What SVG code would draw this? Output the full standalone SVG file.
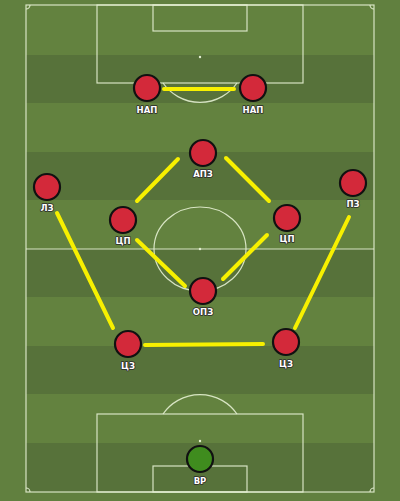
<svg xmlns="http://www.w3.org/2000/svg" width="400" height="501" viewBox="0 0 400 501">
<defs>
<style>
.ln{fill:none;stroke:#e4efd2;stroke-width:1.2;opacity:0.9}
.dk{fill:#57723a}
.lk{stroke:#f7f000;stroke-width:4;stroke-linecap:round}
.pl{fill:#d3293a;stroke:#111;stroke-width:2.2}
.gk{fill:#3f8c1e;stroke:#111;stroke-width:2.2}
.lb{font-family:"DejaVu Sans",sans-serif;font-size:8.5px;font-weight:bold;fill:#fff;text-anchor:middle;stroke:#2a2a2a;stroke-width:1.6;paint-order:stroke;stroke-linejoin:round}
</style>
</defs>
<rect width="400" height="501" fill="#61803f"/>
<g id="pitch">
<rect x="26" y="5" width="348" height="487" fill="#63823f"/>
<rect class="dk" x="26" y="55" width="348" height="48"/>
<rect class="dk" x="26" y="152" width="348" height="48"/>
<rect class="dk" x="26" y="249" width="348" height="48"/>
<rect class="dk" x="26" y="346" width="348" height="48"/>
<rect class="dk" x="26" y="443" width="348" height="49"/>
<rect class="ln" x="26" y="5" width="348" height="487"/>
<line class="ln" x1="26" y1="249" x2="374" y2="249"/>
<ellipse class="ln" cx="200" cy="249" rx="46" ry="42"/>
<circle cx="200" cy="249" r="1.2" fill="#e4efd2"/>
<rect class="ln" x="97" y="5" width="206" height="78"/>
<rect class="ln" x="153" y="5" width="94" height="26"/>
<circle cx="200" cy="57" r="1.2" fill="#e4efd2"/>
<path class="ln" d="M163 83 A45 45 0 0 0 237 83"/>
<rect class="ln" x="97" y="414" width="206" height="78"/>
<rect class="ln" x="153" y="466" width="94" height="26"/>
<circle cx="200" cy="441" r="1.2" fill="#e4efd2"/>
<path class="ln" d="M163 414 A45 45 0 0 1 237 414"/>
<path class="ln" d="M26 9 A4 4 0 0 0 30 5"/>
<path class="ln" d="M370 5 A4 4 0 0 0 374 9"/>
<path class="ln" d="M26 488 A4 4 0 0 1 30 492"/>
<path class="ln" d="M370 492 A4 4 0 0 1 374 488"/>
</g>
<g id="connectors">
<line class="lk" x1="164" y1="89" x2="234" y2="89"/>
<line class="lk" x1="178" y1="159" x2="137" y2="201"/>
<line class="lk" x1="226" y1="158" x2="269" y2="201"/>
<line class="lk" x1="57" y1="213" x2="113" y2="328"/>
<line class="lk" x1="349" y1="217" x2="295" y2="328"/>
<line class="lk" x1="137" y1="240" x2="185" y2="286"/>
<line class="lk" x1="267" y1="235" x2="223" y2="279"/>
<line class="lk" x1="145" y1="345" x2="263" y2="344"/>
</g>
<g id="nap1"><circle class="pl" cx="147" cy="88" r="13"/><text class="lb" x="147" y="113">НАП</text></g>
<g id="nap2"><circle class="pl" cx="253" cy="88" r="13"/><text class="lb" x="253" y="113">НАП</text></g>
<g id="apz"><circle class="pl" cx="203" cy="153" r="13"/><text class="lb" x="203" y="177">АПЗ</text></g>
<g id="lz"><circle class="pl" cx="47" cy="187" r="13"/><text class="lb" x="47" y="211">ЛЗ</text></g>
<g id="pz"><circle class="pl" cx="353" cy="183" r="13"/><text class="lb" x="353" y="207">ПЗ</text></g>
<g id="cp1"><circle class="pl" cx="123" cy="220" r="13"/><text class="lb" x="123" y="244">ЦП</text></g>
<g id="cp2"><circle class="pl" cx="287" cy="218" r="13"/><text class="lb" x="287" y="242">ЦП</text></g>
<g id="opz"><circle class="pl" cx="203" cy="291" r="13"/><text class="lb" x="203" y="315">ОПЗ</text></g>
<g id="cz1"><circle class="pl" cx="128" cy="344" r="13"/><text class="lb" x="128" y="369">ЦЗ</text></g>
<g id="cz2"><circle class="pl" cx="286" cy="342" r="13"/><text class="lb" x="286" y="367">ЦЗ</text></g>
<g id="vr"><circle class="gk" cx="200" cy="459" r="13"/><text class="lb" x="200" y="484">ВР</text></g>
</svg>
